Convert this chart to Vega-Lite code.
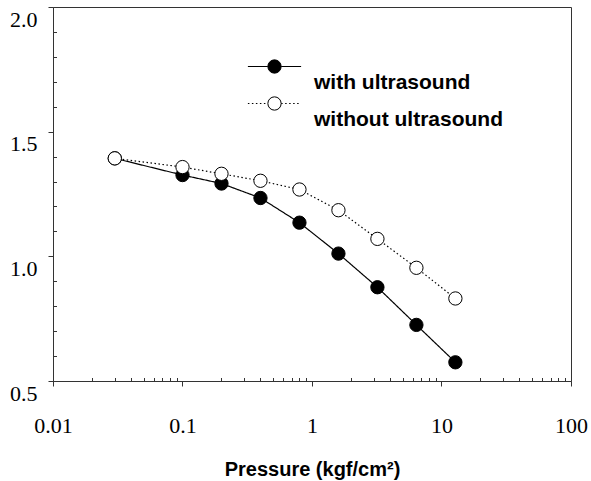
{
  "$schema": "https://vega.github.io/schema/vega-lite/v6.json",
  "width": 518,
  "height": 374,
  "autosize": "none",
  "padding": {"left": 53, "top": 7, "right": 20, "bottom": 100},
  "background": "white",
  "config": {
    "view": {"stroke": "#333", "strokeWidth": 1},
    "axis": {"domainColor": "#333", "tickColor": "#333", "labelFont": "Liberation Serif", "labelFontSize": 22, "labelColor": "black", "grid": false}
  },
  "data": {
    "values": [
      {"series": "with ultrasound", "pressure": 0.03, "value": 1.393},
      {"series": "with ultrasound", "pressure": 0.1, "value": 1.326},
      {"series": "with ultrasound", "pressure": 0.2, "value": 1.292},
      {"series": "with ultrasound", "pressure": 0.4, "value": 1.234},
      {"series": "with ultrasound", "pressure": 0.8, "value": 1.135},
      {"series": "with ultrasound", "pressure": 1.6, "value": 1.011},
      {"series": "with ultrasound", "pressure": 3.2, "value": 0.876},
      {"series": "with ultrasound", "pressure": 6.4, "value": 0.725},
      {"series": "with ultrasound", "pressure": 12.8, "value": 0.575},
      {"series": "without ultrasound", "pressure": 0.03, "value": 1.393},
      {"series": "without ultrasound", "pressure": 0.1, "value": 1.358},
      {"series": "without ultrasound", "pressure": 0.2, "value": 1.331},
      {"series": "without ultrasound", "pressure": 0.4, "value": 1.303},
      {"series": "without ultrasound", "pressure": 0.8, "value": 1.268},
      {"series": "without ultrasound", "pressure": 1.6, "value": 1.185},
      {"series": "without ultrasound", "pressure": 3.2, "value": 1.07},
      {"series": "without ultrasound", "pressure": 6.4, "value": 0.954},
      {"series": "without ultrasound", "pressure": 12.8, "value": 0.831}
    ]
  },
  "layer": [
    {
      "mark": {"type": "line", "color": "black", "strokeWidth": 1.2},
      "encoding": {
        "x": {
          "field": "pressure", "type": "quantitative",
          "scale": {"type": "log", "domain": [0.01, 100]},
          "axis": {
            "orient": "bottom", "values": [0.01, 0.1, 1, 10, 100], "labelExpr": "'' + datum.value",
            "tickSize": 5, "labelBaseline": "alphabetic", "labelPadding": 46, "labelFlush": false, "labelOverlap": false,
            "title": "Pressure (kgf/cm²)", "titleFont": "Liberation Sans", "titleFontSize": 20, "titleFontWeight": "bold",
            "titleColor": "black", "titlePadding": 23
          }
        },
        "y": {
          "field": "value", "type": "quantitative",
          "scale": {"domain": [0.5, 2.0], "nice": false, "zero": false},
          "axis": {
            "orient": "left", "values": [0.5, 1.0, 1.5, 2.0], "format": ".1f", "tickSize": 5,
            "labelPadding": 11, "labelBaseline": "alphabetic", "labelOffset": 19, "labelFlush": false, "labelOverlap": false, "title": null
          }
        },
        "strokeDash": {
          "field": "series", "type": "nominal",
          "scale": {"domain": ["with ultrasound", "without ultrasound"], "range": [[1, 0], [1.5, 2.5]]},
          "legend": {
            "orient": "none", "legendX": 211, "legendY": 49, "title": null, "padding": 0,
            "symbolType": "M-4,0 L-1,0 M1,0 L4,0", "symbolSize": 177, "symbolStrokeColor": "black",
            "symbolStrokeWidth": 1.2, "symbolFillColor": "transparent", "symbolOpacity": 1,
            "labelFont": "Liberation Sans", "labelFontSize": 21, "labelFontWeight": "bold", "labelColor": "black",
            "labelOffset": 29, "labelLimit": 400, "rowPadding": -4, "labelBaseline": "middle", "zindex": 0,
            "encode": {"labels": {"update": {"dy": {"value": 16}}}}
          }
        }
      }
    },
    {
      "mark": {"type": "point", "shape": "circle", "filled": true, "size": 177, "stroke": "black", "strokeWidth": 1, "opacity": 1},
      "encoding": {
        "x": {
          "field": "pressure", "type": "quantitative",
          "axis": {
            "orient": "bottom", "values": [0.02, 0.03, 0.04, 0.05, 0.06, 0.07, 0.08, 0.09, 0.2, 0.3, 0.4, 0.5, 0.6, 0.7, 0.8, 0.9, 2, 3, 4, 5, 6, 7, 8, 9, 20, 30, 40, 50, 60, 70, 80, 90],
            "tickSize": -3.5, "labels": false, "domain": false, "title": null
          }
        },
        "y": {
          "field": "value", "type": "quantitative",
          "axis": {
            "orient": "left", "values": [0.6, 0.7, 0.8, 0.9, 1.1, 1.2, 1.3, 1.4, 1.6, 1.7, 1.8, 1.9],
            "tickSize": -3.5, "labels": false, "domain": false, "title": null
          }
        },
        "fill": {
          "field": "series", "type": "nominal",
          "scale": {"domain": ["without ultrasound", "with ultrasound"], "range": ["white", "black"]},
          "legend": {
            "orient": "none", "legendX": 211, "legendY": 49, "title": null, "padding": 0,
            "values": ["with ultrasound", "without ultrasound"],
            "symbolType": "circle", "symbolSize": 177, "symbolStrokeColor": "black", "symbolStrokeWidth": 1, "symbolOpacity": 1,
            "labelFont": "Liberation Sans", "labelFontSize": 21, "labelFontWeight": "bold", "labelExpr": "''",
            "labelOffset": 29, "rowPadding": -4, "labelBaseline": "middle", "zindex": 1,
            "encode": {"labels": {"update": {"dy": {"value": 16}}}}
          }
        }
      }
    }
  ],
  "resolve": {"axis": {"x": "independent", "y": "independent"}}
}
